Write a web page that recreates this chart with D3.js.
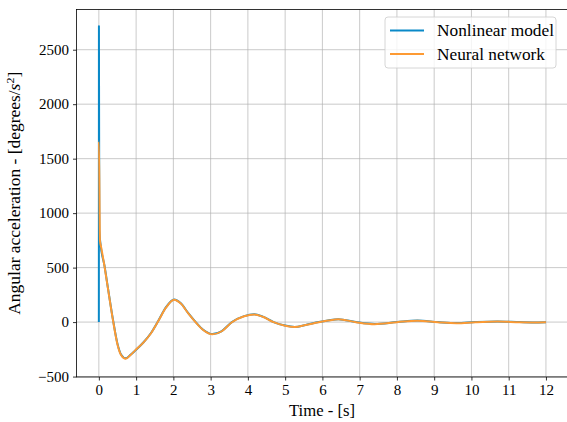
<!DOCTYPE html>
<html>
<head>
<meta charset="utf-8">
<script src="https://cdn.jsdelivr.net/npm/d3@7"></script>
<style>
  html, body { margin: 0; padding: 0; background: #fff; }
  svg { display: block; }
  text { font-family: "Liberation Serif", "DejaVu Serif", serif; fill: #000; }
</style>
</head>
<body>
<div id="chart"></div>
<script>
// time samples (s) and angular acceleration (degrees/s^2)
const timeNonlinear = [0, 0.002, 0.012, 0.05, 0.15, 0.25, 0.38, 0.5, 0.6, 0.72, 0.85, 0.97, 1.2, 1.4, 1.6, 1.8, 2.02, 2.2, 2.4, 2.6, 2.8, 3.05, 3.3, 3.57, 3.9, 4.17, 4.4, 4.69, 5.0, 5.26, 5.55, 5.9, 6.15, 6.43, 6.9, 7.4, 8.0, 8.55, 9.1, 9.6, 10.1, 10.7, 11.3, 11.8, 12];
const accNonlinear  = [0, 2715, 845, 700, 520, 300, 20, -200, -300, -333, -300, -263, -185, -100, 15, 135, 208, 172, 82, 0, -70, -110, -82, 0, 55, 71, 50, 0, -32, -44, -26, 0, 15, 27, 0, -18, 0, 14, 0, -9, 0, 6, 0, -3, -2];

const timeNeural = [0, 0.002, 0.03, 0.06, 0.15, 0.25, 0.38, 0.5, 0.6, 0.72, 0.85, 0.97, 1.2, 1.4, 1.6, 1.8, 2.02, 2.2, 2.4, 2.6, 2.8, 3.05, 3.3, 3.57, 3.9, 4.17, 4.4, 4.69, 5.0, 5.26, 5.55, 5.9, 6.15, 6.43, 6.9, 7.4, 8.0, 8.55, 9.1, 9.6, 10.1, 10.7, 11.3, 11.8, 12];
const accNeural  = [1660, 1660, 745, 690, 515, 295, 15, -205, -305, -337, -302, -262, -186, -102, 12, 132, 206, 170, 80, -2, -72, -112, -84, -2, 53, 70, 49, -1, -33, -45, -27, -1, 14, 26, -1, -19, -1, 13, -1, -10, -1, 5, -1, -3, -2];

const xTicks = [0, 1, 2, 3, 4, 5, 6, 7, 8, 9, 10, 11, 12];
const yTicks = [-500, 0, 500, 1000, 1500, 2000, 2500];
const seriesNames = ["Nonlinear model", "Neural network"];
const seriesColors = ["#0a89c8", "#fd9a33"];

const width = 567, height = 422;
const plot = { left: 76.5, right: 568.3, top: 9.5, bottom: 377 };

const svg = d3.select("#chart").append("svg")
  .attr("width", width)
  .attr("height", height);

const x = d3.scaleLinear().domain([-0.6, 12.6]).range([plot.left, plot.right]);
const y = d3.scaleLinear().domain([-504, 2869]).range([plot.bottom, plot.top]);

svg.append("clipPath").attr("id", "clip")
  .append("rect")
  .attr("x", plot.left).attr("y", plot.top)
  .attr("width", plot.right - plot.left).attr("height", plot.bottom - plot.top);

// grid
const grid = svg.append("g").attr("stroke", "#b0b0b0").attr("stroke-opacity", 0.75).attr("stroke-width", 0.9);
grid.selectAll("line.gx").data(xTicks).enter().append("line")
  .attr("x1", d => x(d)).attr("x2", d => x(d))
  .attr("y1", plot.top).attr("y2", plot.bottom);
grid.selectAll("line.gy").data(yTicks).enter().append("line")
  .attr("y1", d => y(d)).attr("y2", d => y(d))
  .attr("x1", plot.left).attr("x2", plot.right);

// lines
const line = d3.line()
  .x(d => x(d[0]))
  .y(d => y(d[1]))
  .curve(d3.curveMonotoneX);

const series = [
  d3.zip(timeNonlinear, accNonlinear),
  d3.zip(timeNeural, accNeural)
];

svg.append("g").attr("clip-path", "url(#clip)")
  .selectAll("path")
  .data(series)
  .enter()
  .append("path")
  .attr("fill", "none")
  .attr("stroke", (_, i) => seriesColors[i])
  .attr("stroke-width", 2)
  .attr("stroke-linejoin", "round")
  .attr("d", line);

// axes
const xAxis = svg.append("g")
  .attr("transform", `translate(0,${plot.bottom})`)
  .call(d3.axisBottom(x).tickValues(xTicks).tickSize(3.5).tickPadding(4).tickSizeOuter(0));
const yAxis = svg.append("g")
  .attr("transform", `translate(${plot.left},0)`)
  .call(d3.axisLeft(y).tickValues(yTicks).tickSize(3.5).tickPadding(4).tickSizeOuter(0)
    .tickFormat(d => d < 0 ? "\u2212" + Math.abs(d) : d));

[xAxis, yAxis].forEach(g => {
  g.select(".domain").remove();
  g.selectAll("line").attr("stroke", "#000").attr("stroke-width", 0.8);
  g.selectAll("text").style("font-size", "15px").style("font-family", "Liberation Serif, serif").attr("fill", "#000");
});

// frame
svg.append("rect")
  .attr("x", plot.left).attr("y", plot.top)
  .attr("width", plot.right - plot.left).attr("height", plot.bottom - plot.top)
  .attr("fill", "none").attr("stroke", "#000").attr("stroke-width", 0.8);

// axis labels
svg.append("text")
  .attr("x", 322)
  .attr("y", 416)
  .attr("text-anchor", "middle")
  .attr("textLength", 66)
  .attr("lengthAdjust", "spacingAndGlyphs")
  .style("font-size", "16px")
  .text("Time - [s]");

const yl = svg.append("text")
  .attr("transform", `translate(20,${(plot.top + plot.bottom) / 2}) rotate(-90)`)
  .attr("text-anchor", "middle")
  .attr("textLength", 243)
  .attr("lengthAdjust", "spacingAndGlyphs")
  .style("font-size", "16px");
yl.append("tspan").text("Angular acceleration - [degrees/");
yl.append("tspan").style("font-style", "italic").text("s");
yl.append("tspan").attr("dy", -6).style("font-size", "11px").text("2");
yl.append("tspan").attr("dy", 6).text("]");

// legend
const legend = svg.append("g").attr("transform", "translate(385,17)");
legend.append("rect")
  .attr("width", 171).attr("height", 51)
  .attr("rx", 3)
  .attr("fill", "#fff").attr("fill-opacity", 0.8)
  .attr("stroke", "#cccccc").attr("stroke-width", 0.8);
const legendWidths = [117, 108];
seriesNames.forEach((name, i) => {
  const yy = 13.5 + i * 23.5;
  legend.append("line")
    .attr("x1", 5).attr("x2", 39)
    .attr("y1", yy).attr("y2", yy)
    .attr("stroke", seriesColors[i]).attr("stroke-width", 2);
  legend.append("text")
    .attr("x", 52).attr("y", yy + 5.5)
    .attr("textLength", legendWidths[i])
    .attr("lengthAdjust", "spacingAndGlyphs")
    .style("font-size", "16.5px")
    .text(name);
});
</script>
</body>
</html>
